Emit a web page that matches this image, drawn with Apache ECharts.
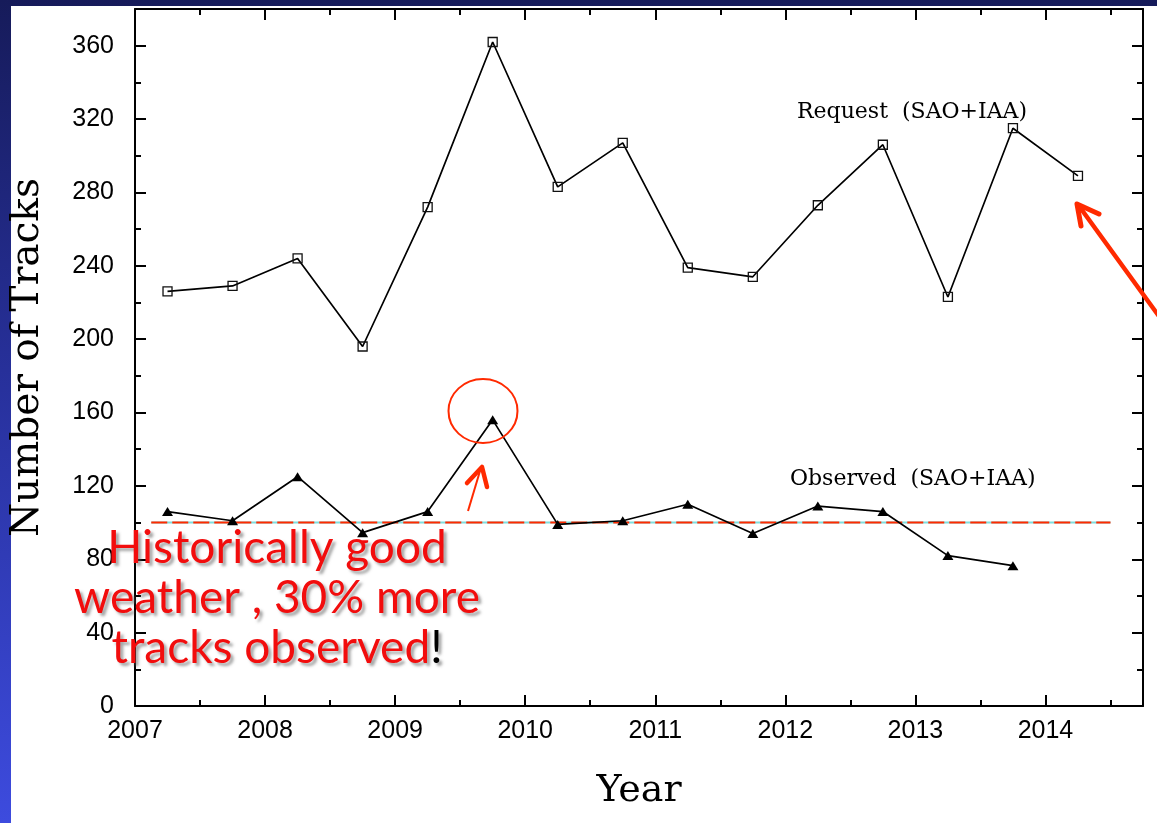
<!DOCTYPE html>
<html>
<head>
<meta charset="utf-8">
<script src="https://cdn.jsdelivr.net/npm/echarts@6/dist/echarts.min.js"></script>
<style>
  html, body { margin: 0; padding: 0; }
  body {
    width: 1157px; height: 823px; overflow: hidden; position: relative;
    background: linear-gradient(to bottom, #161b5a 0%, #27309a 45%, #3d4bde 100%);
  }
  #panel { position: absolute; left: 11px; top: 6px; right: 0; bottom: 0; background: #fff; }
  #main { position: absolute; left: 0; top: 0; width: 1157px; height: 823px; }
</style>
</head>
<body>
<div id="panel"></div>
<div id="main"></div>
<script>
// years sit at quarter-year positions
const requestYears = [2007.25, 2007.75, 2008.25, 2008.75, 2009.25, 2009.75, 2010.25, 2010.75,
                      2011.25, 2011.75, 2012.25, 2012.75, 2013.25, 2013.75, 2014.25];
const requestTracks = [226, 229, 244, 196, 272, 362, 283, 307, 239, 234, 273, 306, 223, 315, 289];

const observedYears = [2007.25, 2007.75, 2008.25, 2008.75, 2009.25, 2009.75, 2010.25, 2010.75,
                       2011.25, 2011.75, 2012.25, 2012.75, 2013.25, 2013.75];
const observedTracks = [106, 101, 125, 94.5, 106, 156, 99, 101, 110, 94, 109, 106, 82, 76.5];

const refLineYears = [2007.125, 2014.5];
const refLineValue = 100;

const seriesLabels = ['Request  (SAO+IAA)', 'Observed  (SAO+IAA)'];
const noteLines = ['Historically good', 'weather , 30% more', 'tracks observed'];

const chart = echarts.init(document.getElementById('main'), null, { renderer: 'canvas' });

const pair = (xs, ys) => xs.map((x, i) => [x, ys[i]]);

const tickStyle = { color: '#000', width: 2 };
const serifFont = '"DejaVu Serif", "Liberation Serif", serif';
const tickFont = '"Liberation Sans", Arial, sans-serif';

function xAxisDef(pos, withLabels) {
  return {
    type: 'value',
    position: pos,
    min: 2007,
    max: 2014.75,
    interval: 1,
    axisLine: { show: true, onZero: false, lineStyle: { color: '#000', width: 2 } },
    axisTick: { show: true, inside: true, length: 11, lineStyle: tickStyle },
    minorTick: { show: true, splitNumber: 2, length: 6, lineStyle: tickStyle },
    splitLine: { show: false },
    minorSplitLine: { show: false },
    axisLabel: {
      show: withLabels,
      margin: 13,
      color: '#000',
      fontSize: 25,
      fontFamily: tickFont,
      formatter: v => (Number.isInteger(v) ? String(v) : '')
    },
    name: withLabels ? 'Year' : '',
    nameLocation: 'middle',
    nameGap: 66,
    nameTextStyle: { color: '#000', fontSize: 38, fontFamily: serifFont }
  };
}

function yAxisDef(pos, withLabels) {
  return {
    type: 'value',
    position: pos,
    min: 0,
    max: 380,
    interval: 40,
    axisLine: { show: true, onZero: false, lineStyle: { color: '#000', width: 2 } },
    axisTick: { show: true, inside: true, length: 11, lineStyle: tickStyle },
    minorTick: { show: true, splitNumber: 2, length: 6, lineStyle: tickStyle },
    splitLine: { show: false },
    minorSplitLine: { show: false },
    axisLabel: {
      show: withLabels,
      margin: 21,
      color: '#000',
      fontSize: 25,
      fontFamily: tickFont,
      formatter: v => (v % 40 === 0 ? String(v) : '')
    },
    name: withLabels ? 'Number of Tracks' : '',
    nameLocation: 'middle',
    nameRotate: 90,
    nameGap: 88,
    nameTextStyle: { color: '#000', fontSize: 39, fontFamily: serifFont }
  };
}

const red = '#ff2a00';
const textShadow = { textShadowColor: 'rgba(90,90,90,0.55)', textShadowBlur: 3, textShadowOffsetX: 3, textShadowOffsetY: 3 };
const noteFont = '46px Lato, "DejaVu Sans", sans-serif';
const noteRed = '#f20d0d';

const option = {
  backgroundColor: 'transparent',
  animation: false,
  grid: { left: 132, right: 14, top: 9, bottom: 117, containLabel: false },
  xAxis: [xAxisDef('bottom', true), xAxisDef('top', false)],
  yAxis: [yAxisDef('left', true), yAxisDef('right', false)],
  series: [
    {
      name: 'ref-under',
      type: 'line',
      data: refLineYears.map(x => [x, refLineValue]),
      symbol: 'none',
      lineStyle: { color: '#7fdede', width: 2 },
      z: 1
    },
    {
      name: 'ref',
      type: 'line',
      data: refLineYears.map(x => [x, refLineValue]),
      symbol: 'none',
      lineStyle: { color: red, width: 2, type: [16, 5] },
      z: 1
    },
    {
      name: seriesLabels[0],
      type: 'line',
      data: pair(requestYears, requestTracks),
      symbol: 'rect',
      symbolSize: 9,
      lineStyle: { color: '#000', width: 1.7 },
      itemStyle: { color: 'rgba(0,0,0,0)', borderColor: '#111', borderWidth: 1.3 },
      z: 3
    },
    {
      name: seriesLabels[1],
      type: 'line',
      data: pair(observedYears, observedTracks),
      symbol: 'triangle',
      symbolSize: [11, 9],
      lineStyle: { color: '#000', width: 1.7 },
      itemStyle: { color: '#000' },
      z: 3
    }
  ],
  graphic: [
    {
      type: 'text', left: 797, top: 101, z: 10,
      style: { text: seriesLabels[0], font: '22px ' + serifFont, fill: '#000' }
    },
    {
      type: 'text', left: 790, top: 468, z: 10,
      style: { text: seriesLabels[1], font: '22px ' + serifFont, fill: '#000' }
    },
    {
      type: 'ellipse', z: 10,
      shape: { cx: 483, cy: 411, rx: 34.5, ry: 32 },
      style: { fill: 'none', stroke: red, lineWidth: 2 }
    },
    {
      type: 'polyline', z: 10,
      shape: { points: [[468, 511], [480, 471]] },
      style: { stroke: red, lineWidth: 2, fill: 'none' }
    },
    {
      type: 'polyline', z: 10,
      shape: { points: [[467, 483], [482, 467], [487, 487]] },
      style: { stroke: red, lineWidth: 4.5, fill: 'none', lineJoin: 'round', lineCap: 'round' }
    },
    {
      type: 'polyline', z: 10,
      shape: { points: [[1161, 319], [1079, 206]] },
      style: { stroke: red, lineWidth: 4.5, fill: 'none', lineCap: 'round' }
    },
    {
      type: 'polyline', z: 10,
      shape: { points: [[1081, 226], [1077, 204], [1099, 214]] },
      style: { stroke: red, lineWidth: 5, fill: 'none', lineJoin: 'round', lineCap: 'round' }
    },
    {
      type: 'text', z: 12, x: 277, y: 548,
      style: Object.assign({ text: noteLines[0], font: noteFont, fill: noteRed, align: 'center', verticalAlign: 'middle' }, textShadow)
    },
    {
      type: 'text', z: 12, x: 277, y: 598,
      style: Object.assign({ text: noteLines[1], font: noteFont, fill: noteRed, align: 'center', verticalAlign: 'middle' }, textShadow)
    },
    {
      type: 'text', z: 12, x: 277, y: 648,
      style: Object.assign({
        text: '{r|' + noteLines[2] + '}{k|!}',
        font: noteFont, align: 'center', verticalAlign: 'middle',
        rich: {
          r: Object.assign({ font: noteFont, fill: noteRed }, textShadow),
          k: Object.assign({ font: noteFont, fill: '#000' }, textShadow)
        }
      }, textShadow)
    }
  ]
};

chart.setOption(option);
</script>
</body>
</html>
